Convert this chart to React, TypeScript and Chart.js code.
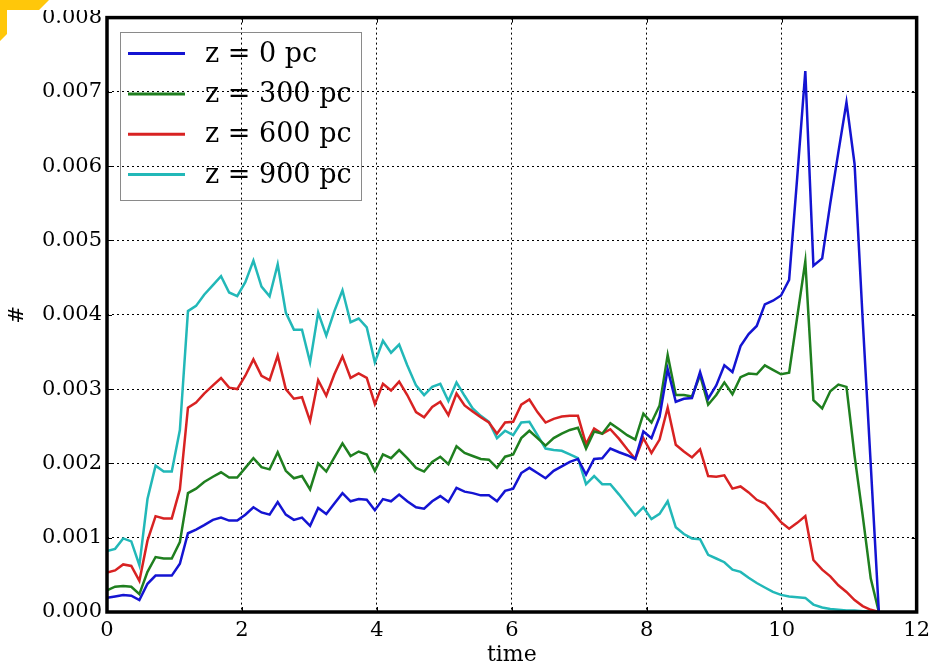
import React, { useEffect, useRef } from "react";
import { Chart, registerables } from "chart.js";

Chart.register(...registerables);

// time axis (simulation output samples)
const times = [
  0.0, 0.12, 0.24, 0.36, 0.48, 0.6, 0.72, 0.84, 0.96, 1.08,
  1.2, 1.32, 1.44, 1.57, 1.69, 1.81, 1.93, 2.05, 2.17, 2.29,
  2.41, 2.53, 2.65, 2.77, 2.89, 3.01, 3.13, 3.25, 3.37, 3.49,
  3.61, 3.73, 3.85, 3.97, 4.09, 4.21, 4.33, 4.45, 4.58, 4.7,
  4.82, 4.94, 5.06, 5.18, 5.3, 5.42, 5.54, 5.66, 5.78, 5.9,
  6.02, 6.14, 6.26, 6.38, 6.5, 6.62, 6.74, 6.86, 6.98, 7.1,
  7.22, 7.34, 7.46, 7.59, 7.71, 7.83, 7.95, 8.07, 8.19, 8.31,
  8.43, 8.55, 8.67, 8.79, 8.91, 9.03, 9.15, 9.27, 9.39, 9.51,
  9.63, 9.75, 9.87, 9.99, 10.11, 10.23, 10.35, 10.47, 10.6, 10.72,
  10.84, 10.96, 11.08, 11.2, 11.32, 11.44,
];

const seriesLabels = ["z = 0 pc", "z = 300 pc", "z = 600 pc", "z = 900 pc"];
const seriesColors = ["#1414d2", "#1f7f1f", "#d82222", "#22b8b8"];

const z0 = [
  0.00019, 0.00021, 0.00023, 0.00022, 0.00016, 0.00038, 0.00049, 0.00049, 0.00049, 0.00065,
  0.00106, 0.00111, 0.00117, 0.00124, 0.00127, 0.00123, 0.00123, 0.00131, 0.00141, 0.00134,
  0.00131, 0.00148, 0.00131, 0.00124, 0.00127, 0.00116, 0.0014, 0.00132, 0.00146, 0.0016,
  0.00149, 0.00152, 0.00151, 0.00137, 0.00152, 0.00149, 0.00158, 0.00149, 0.00141, 0.00139,
  0.00149, 0.00156, 0.00148, 0.00167, 0.00162, 0.0016, 0.00157, 0.00157, 0.00149, 0.00163,
  0.00166, 0.00187, 0.00194, 0.00187, 0.0018, 0.0019, 0.00196, 0.00202, 0.00206, 0.00185,
  0.00206, 0.00207, 0.0022, 0.00215, 0.00211, 0.00206, 0.00243, 0.00234, 0.00263, 0.00327,
  0.00283, 0.00287, 0.00288, 0.00323, 0.00287, 0.00305, 0.00332, 0.00323, 0.00358, 0.00374,
  0.00385, 0.00414, 0.00419, 0.00426, 0.00447, 0.00585, 0.00728, 0.00466, 0.00476, 0.0055,
  0.00619, 0.00686, 0.00603, 0.00394, 0.00198, 0.0,
];

const z300 = [
  0.00029, 0.00034, 0.00035, 0.00034, 0.00024, 0.00054, 0.00074, 0.00072, 0.00072, 0.00094,
  0.0016, 0.00166, 0.00175, 0.00182, 0.00188, 0.00181, 0.00181, 0.00194, 0.00207, 0.00195,
  0.00192, 0.00215, 0.0019, 0.0018, 0.00183, 0.00165, 0.002, 0.00189, 0.00208, 0.00227,
  0.0021, 0.00216, 0.00212, 0.0019, 0.00212, 0.00207, 0.00218, 0.00207, 0.00194, 0.00189,
  0.00202, 0.00209, 0.00199, 0.00223, 0.00214, 0.0021, 0.00206, 0.00205, 0.00194, 0.00209,
  0.00212, 0.00234, 0.00244, 0.00234, 0.00224, 0.00234, 0.0024, 0.00245, 0.00248, 0.0022,
  0.00243, 0.0024, 0.00254, 0.00246, 0.00238, 0.00232, 0.00267, 0.00255, 0.00278, 0.00346,
  0.00292, 0.00292, 0.0029, 0.00319, 0.00279, 0.00292, 0.00309, 0.00293, 0.00316, 0.00321,
  0.0032, 0.00332, 0.00326, 0.0032, 0.00322, 0.00397, 0.00472, 0.00285, 0.00274, 0.00297,
  0.00306, 0.00303, 0.0021, 0.0013, 0.00045, 0.0,
];

const z600 = [
  0.00053, 0.00056, 0.00064, 0.00062, 0.00042, 0.00096, 0.00129, 0.00126, 0.00126, 0.00165,
  0.00275, 0.00282, 0.00294, 0.00305, 0.00315, 0.00302, 0.003, 0.00318, 0.0034, 0.00318,
  0.00312, 0.00345, 0.003, 0.00287, 0.00289, 0.00257, 0.00312, 0.00291, 0.0032, 0.00344,
  0.00315, 0.00321, 0.00315, 0.0028, 0.00307, 0.00298, 0.0031, 0.00292, 0.00269, 0.00262,
  0.00276, 0.00283, 0.00265, 0.00294, 0.00278, 0.0027, 0.00262, 0.00255, 0.0024, 0.00255,
  0.00256, 0.00279, 0.00286, 0.00269, 0.00255, 0.0026, 0.00263, 0.00264, 0.00264, 0.00226,
  0.00247, 0.0024, 0.00246, 0.00233, 0.00219, 0.00206, 0.00234, 0.00214, 0.00232, 0.00275,
  0.00225, 0.00216, 0.00208, 0.00219, 0.00183, 0.00182, 0.00184, 0.00166, 0.00169, 0.00161,
  0.00151, 0.00146, 0.00134, 0.00121, 0.00112, 0.0012, 0.00129, 0.0007, 0.00057, 0.00048,
  0.00036, 0.00027, 0.00016, 0.00008, 0.00003, 0.0,
];

const z900 = [
  0.00082, 0.00085, 0.00099, 0.00095, 0.00063, 0.00152, 0.00197, 0.00189, 0.00189, 0.00245,
  0.00405, 0.00412, 0.00427, 0.0044, 0.00452, 0.0043, 0.00425, 0.00444, 0.00473, 0.00438,
  0.00425, 0.00468, 0.00403, 0.0038, 0.0038, 0.00336, 0.00403, 0.00372, 0.00405, 0.00433,
  0.0039, 0.00395, 0.00383, 0.00336, 0.00365, 0.00349, 0.0036, 0.00332, 0.00305, 0.00292,
  0.00303, 0.00307, 0.00284, 0.00309, 0.00291, 0.00274, 0.00264, 0.00256, 0.00234, 0.00244,
  0.00238, 0.00255, 0.00256, 0.00238, 0.0022, 0.00218, 0.00217, 0.00212, 0.00207, 0.00172,
  0.00183, 0.00172, 0.00172, 0.00158, 0.00144, 0.0013, 0.00141, 0.00125, 0.00132, 0.00149,
  0.00114, 0.00105, 0.00099, 0.00098, 0.00077, 0.00072, 0.00067, 0.00057, 0.00054, 0.00046,
  0.00039, 0.00033, 0.00027, 0.00023, 0.00021, 0.0002, 0.00019, 0.0001, 0.00006, 0.00004,
  0.00003, 0.00002, 0.00002, 0.00001, 0.00001, 0.0,
];

const seriesValues = [z0, z300, z600, z900];

const xTickStep = 2;
const xMin = 0;
const xMax = 12;
const yTickStep = 0.001;
const yMin = 0;
const yMax = 0.008;

const FONT = "'DejaVu Serif', 'Liberation Serif', serif";

// matplotlib-like frame: inward ticks and thick spines
const framePlugin = {
  id: "mplFrame",
  afterDatasetsDraw(chart: any) {
    const { ctx, chartArea } = chart;
    const { left, right, top, bottom } = chartArea;
    const xs = chart.scales.x;
    const ys = chart.scales.y;
    ctx.save();
    ctx.strokeStyle = "#000";
    ctx.lineWidth = 1;
    ctx.setLineDash([]);
    const tl = 5;
    xs.ticks.forEach((t: any) => {
      const px = Math.round(xs.getPixelForValue(t.value)) + 0.5;
      ctx.beginPath();
      ctx.moveTo(px, bottom);
      ctx.lineTo(px, bottom - tl);
      ctx.moveTo(px, top);
      ctx.lineTo(px, top + tl);
      ctx.stroke();
    });
    ys.ticks.forEach((t: any) => {
      const py = Math.round(ys.getPixelForValue(t.value)) + 0.5;
      ctx.beginPath();
      ctx.moveTo(left, py);
      ctx.lineTo(left + tl, py);
      ctx.moveTo(right, py);
      ctx.lineTo(right - tl, py);
      ctx.stroke();
    });
    ctx.lineWidth = 3.5;
    ctx.strokeRect(left, top, right - left, bottom - top);
    ctx.restore();
  },
};

// boxed legend in the upper-left corner of the plot
const boxLegendPlugin = {
  id: "boxLegend",
  afterDatasetsDraw(chart: any) {
    const { ctx, chartArea } = chart;
    const datasets = chart.data.datasets;
    const fx = chartArea.left + 13;
    const fy = chartArea.top + 14;
    const lineX0 = fx + 8;
    const lineX1 = fx + 65;
    const textX = fx + 85;
    const rowStep = 40.3;
    const firstRow = fy + 22;
    ctx.save();
    ctx.font = "27px " + FONT;
    let maxW = 0;
    datasets.forEach((d: any) => {
      maxW = Math.max(maxW, ctx.measureText(d.label).width);
    });
    const fw = textX + maxW + 9 - fx;
    const fh = firstRow + rowStep * (datasets.length - 1) + 25 - fy;
    ctx.strokeStyle = "#8a8a8a";
    ctx.lineWidth = 1;
    ctx.strokeRect(Math.round(fx) + 0.5, Math.round(fy) + 0.5, Math.round(fw), Math.round(fh));
    datasets.forEach((d: any, i: number) => {
      const y = firstRow + rowStep * i;
      ctx.strokeStyle = d.borderColor;
      ctx.lineWidth = 3;
      ctx.beginPath();
      ctx.moveTo(lineX0, y);
      ctx.lineTo(lineX1, y);
      ctx.stroke();
      ctx.fillStyle = "#000";
      ctx.textAlign = "left";
      ctx.textBaseline = "middle";
      ctx.fillText(d.label, textX, y + 1);
    });
    ctx.restore();
  },
};

// top crop band and yellow corner mark seen in the source image
const cornerPlugin = {
  id: "cornerMark",
  afterDraw(chart: any) {
    const { ctx } = chart;
    ctx.save();
    ctx.fillStyle = "#ffffff";
    ctx.fillRect(0, 0, chart.width, 10);
    ctx.fillStyle = "#ffc70a";
    ctx.beginPath();
    ctx.moveTo(0, 0);
    ctx.lineTo(49, 0);
    ctx.lineTo(39, 10);
    ctx.lineTo(7, 10);
    ctx.lineTo(7, 34);
    ctx.lineTo(0, 41);
    ctx.closePath();
    ctx.fill();
    ctx.restore();
  },
};

export default function App() {
  const canvasRef = useRef<HTMLCanvasElement | null>(null);

  useEffect(() => {
    const canvas = canvasRef.current;
    if (!canvas) return;
    const datasets = seriesValues.map((vals, k) => ({
      label: seriesLabels[k],
      data: vals.map((v, i) => ({ x: times[i], y: v })),
      borderColor: seriesColors[k],
      backgroundColor: seriesColors[k],
      borderWidth: 2.5,
      pointRadius: 0,
      pointHoverRadius: 0,
      tension: 0,
      fill: false,
    }));

    const chart = new Chart(canvas, {
      type: "line",
      data: { datasets },
      options: {
        animation: false,
        responsive: false,
        devicePixelRatio: 1,
        layout: { padding: { left: 0, top: 15, right: 15, bottom: 0 } },
        plugins: {
          legend: { display: false },
          tooltip: { enabled: false },
          title: { display: false },
        },
        scales: {
          x: {
            type: "linear",
            min: xMin,
            max: xMax,
            afterFit: (s: any) => {
              s.height = 54;
            },
            ticks: {
              stepSize: xTickStep,
              autoSkip: false,
              maxRotation: 0,
              padding: 6,
              color: "#000",
              font: { family: FONT, size: 21 },
              callback: (v: any) => String(v),
            },
            grid: {
              color: "#000",
              lineWidth: 1,
              drawTicks: false,
            },
            border: { display: false, dash: [2, 3] },
            title: {
              display: true,
              text: "time",
              color: "#000",
              font: { family: FONT, size: 22, lineHeight: 1 },
              padding: { top: 0, bottom: 0 },
            },
          },
          y: {
            type: "linear",
            min: yMin,
            max: yMax,
            afterFit: (s: any) => {
              s.width = 107;
            },
            ticks: {
              stepSize: yTickStep,
              autoSkip: false,
              padding: 5,
              color: "#000",
              font: { family: FONT, size: 21 },
              callback: (v: any) => Number(v).toFixed(3),
            },
            grid: {
              color: "#000",
              lineWidth: 1,
              drawTicks: false,
            },
            border: { display: false, dash: [2, 3] },
            title: {
              display: true,
              text: "#",
              color: "#000",
              font: { family: FONT, size: 21 },
              padding: { top: 5, bottom: 0 },
            },
          },
        },
      },
      plugins: [framePlugin, boxLegendPlugin, cornerPlugin],
    });

    return () => {
      chart.destroy();
    };
  }, []);

  return (
    <div
      style={{
        position: "fixed",
        left: 0,
        top: 0,
        width: 936,
        height: 666,
        background: "#ffffff",
      }}
    >
      <canvas ref={canvasRef} width={936} height={666} style={{ display: "block" }} />
    </div>
  );
}
